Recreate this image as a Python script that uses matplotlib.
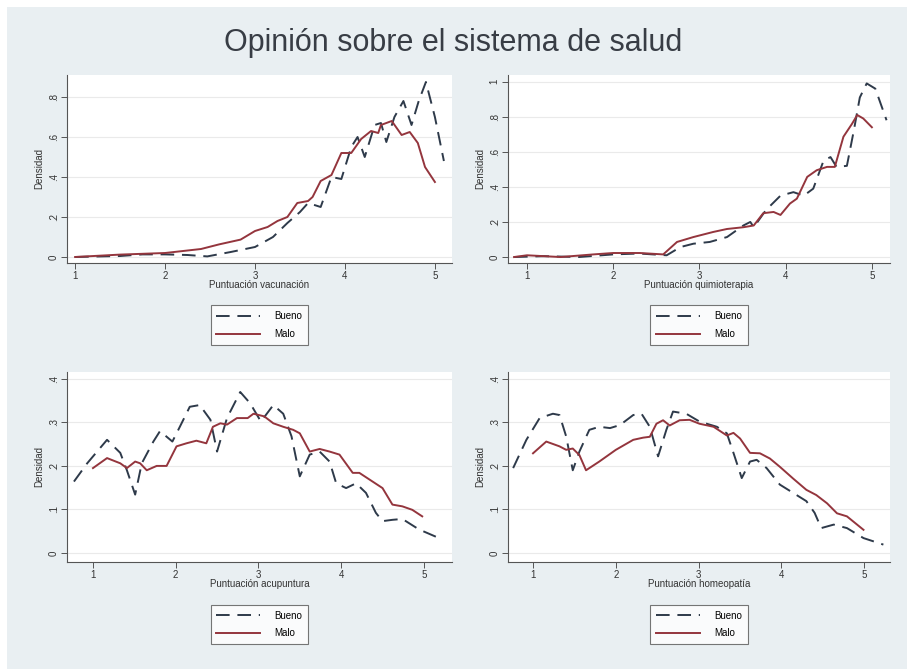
import numpy as np
import matplotlib.pyplot as plt
from matplotlib.patches import Rectangle

plt.rcParams['font.family'] = ['Liberation Sans', 'DejaVu Sans']

# ---- datos ----
# vacunacion
vac_bueno_x = [1.0, 1.5, 1.75, 2.0, 2.25, 2.47, 2.73, 3.0, 3.2, 3.36, 3.5, 3.59, 3.66, 3.73, 3.85, 3.96, 4.07,
               4.14, 4.22, 4.33, 4.4, 4.46, 4.55, 4.65, 4.74, 4.82, 4.9, 5.0, 5.1]
vac_bueno_y = [0.0, 0.005, 0.013, 0.013, 0.01, 0.003, 0.025, 0.05, 0.1, 0.17, 0.225, 0.27, 0.26, 0.25, 0.4, 0.39, 0.55,
               0.6, 0.5, 0.66, 0.67, 0.575, 0.7, 0.78, 0.66, 0.78, 0.875, 0.7, 0.48]
vac_malo_x = [1.0, 1.5, 2.0, 2.2, 2.4, 2.6, 2.84, 3.0, 3.14, 3.25, 3.36, 3.47, 3.59, 3.64, 3.73, 3.85, 3.96, 4.07,
              4.18, 4.29, 4.37, 4.4, 4.52, 4.63, 4.72, 4.81, 4.89, 5.0]
vac_malo_y = [0.0, 0.012, 0.02, 0.03, 0.04, 0.063, 0.087, 0.13, 0.15, 0.18, 0.2, 0.27, 0.28, 0.3, 0.38, 0.41, 0.52, 0.52,
              0.59, 0.63, 0.62, 0.66, 0.68, 0.61, 0.625, 0.57, 0.45, 0.375]

# quimioterapia
qui_bueno_x = [0.85, 1.2, 1.6, 2.0, 2.3, 2.62, 2.78, 2.93, 3.12, 3.32, 3.51, 3.59, 3.63, 3.77, 3.94, 4.09, 4.21, 4.32,
               4.44, 4.52, 4.59, 4.71, 4.79, 4.86, 4.94, 5.04, 5.17]
qui_bueno_y = [0.0, 0.005, 0.0, 0.015, 0.02, 0.01, 0.057, 0.076, 0.086, 0.114, 0.18, 0.2, 0.17, 0.267, 0.35, 0.37, 0.35,
               0.39, 0.55, 0.57, 0.514, 0.52, 0.72, 0.91, 0.99, 0.96, 0.78]
qui_malo_x = [0.85, 1.0, 1.39, 1.77, 2.0, 2.31, 2.58, 2.74, 2.93, 3.16, 3.32, 3.51, 3.63, 3.74, 3.86, 3.94, 4.05, 4.13,
              4.25, 4.36, 4.48, 4.57, 4.67, 4.77, 4.83, 4.9, 5.0]
qui_malo_y = [0.0, 0.01, 0.0, 0.015, 0.023, 0.023, 0.015, 0.086, 0.114, 0.143, 0.16, 0.17, 0.18, 0.25, 0.257, 0.24, 0.305,
              0.333, 0.457, 0.495, 0.514, 0.514, 0.686, 0.76, 0.81, 0.79, 0.74]

# acupuntura
acu_bueno_x = [0.77, 0.93, 1.17, 1.33, 1.41, 1.51, 1.59, 1.73, 1.81, 1.96, 2.05, 2.17, 2.29, 2.42, 2.5, 2.62, 2.78, 2.9,
               3.03, 3.18, 3.3, 3.4, 3.5, 3.62, 3.74, 3.86, 3.94, 4.06, 4.18, 4.3, 4.42, 4.5, 4.62, 4.74, 4.94, 5.22]
acu_bueno_y = [0.164, 0.206, 0.26, 0.23, 0.19, 0.134, 0.206, 0.256, 0.28, 0.256, 0.29, 0.336, 0.34, 0.306, 0.233, 0.31,
               0.37, 0.344, 0.302, 0.34, 0.32, 0.268, 0.176, 0.226, 0.233, 0.21, 0.16, 0.149, 0.16, 0.138, 0.092, 0.073,
               0.076, 0.078, 0.054, 0.031]
acu_malo_x = [1.0, 1.17, 1.33, 1.41, 1.51, 1.57, 1.65, 1.77, 1.89, 2.01, 2.13, 2.25, 2.37, 2.45, 2.54, 2.62, 2.74, 2.87,
              2.94, 3.07, 3.18, 3.3, 3.42, 3.5, 3.62, 3.74, 3.86, 3.98, 4.14, 4.22, 4.38, 4.5, 4.62, 4.74, 4.86, 4.98]
acu_malo_y = [0.195, 0.218, 0.206, 0.195, 0.21, 0.206, 0.19, 0.2, 0.2, 0.245, 0.252, 0.258, 0.252, 0.29, 0.298, 0.295,
              0.31, 0.31, 0.32, 0.314, 0.298, 0.29, 0.283, 0.275, 0.233, 0.239, 0.233, 0.226, 0.184, 0.184, 0.164, 0.149,
              0.111, 0.107, 0.099, 0.084]

# homeopatia
hom_bueno_x = [0.76, 0.92, 1.08, 1.24, 1.32, 1.4, 1.48, 1.56, 1.68, 1.8, 1.93, 2.05, 2.21, 2.31, 2.41, 2.51, 2.61, 2.69,
               2.85, 3.01, 3.22, 3.34, 3.42, 3.52, 3.62, 3.7, 3.82, 3.98, 4.14, 4.3, 4.4, 4.48, 4.63, 4.79, 4.99, 5.23]
hom_bueno_y = [0.195, 0.26, 0.31, 0.32, 0.317, 0.268, 0.19, 0.233, 0.283, 0.29, 0.287, 0.294, 0.317, 0.32, 0.29, 0.222,
               0.283, 0.325, 0.32, 0.302, 0.29, 0.275, 0.23, 0.172, 0.21, 0.214, 0.195, 0.157, 0.138, 0.119, 0.092, 0.057,
               0.065, 0.057, 0.034, 0.019]
hom_malo_x = [1.0, 1.16, 1.32, 1.4, 1.48, 1.56, 1.64, 1.8, 2.0, 2.21, 2.33, 2.41, 2.49, 2.57, 2.65, 2.77, 2.89, 3.01,
              3.18, 3.34, 3.42, 3.5, 3.62, 3.74, 3.86, 3.98, 4.14, 4.3, 4.42, 4.55, 4.67, 4.79, 4.99]
hom_malo_y = [0.229, 0.256, 0.245, 0.237, 0.24, 0.225, 0.19, 0.21, 0.237, 0.26, 0.265, 0.267, 0.297, 0.305, 0.293, 0.305,
              0.306, 0.297, 0.29, 0.27, 0.276, 0.263, 0.23, 0.229, 0.217, 0.198, 0.171, 0.145, 0.133, 0.114, 0.091, 0.084,
              0.053]

paneles = [
    ("Puntuación vacunación", vac_bueno_x, vac_bueno_y, vac_malo_x, vac_malo_y,
     (0.91, 5.19), (-0.03, 0.91), [0, .2, .4, .6, .8], ['0', '.2', '.4', '.6', '.8']),
    ("Puntuación quimioterapia", qui_bueno_x, qui_bueno_y, qui_malo_x, qui_malo_y,
     (0.78, 5.21), (-0.034, 1.038), [0, .2, .4, .6, .8, 1], ['0', '.2', '.4', '.6', '.8', '1']),
    ("Puntuación acupuntura", acu_bueno_x, acu_bueno_y, acu_malo_x, acu_malo_y,
     (0.686, 5.34), (-0.021, 0.416), [0, .1, .2, .3, .4], ['0', '.1', '.2', '.3', '.4']),
    ("Puntuación homeopatía", hom_bueno_x, hom_bueno_y, hom_malo_x, hom_malo_y,
     (0.698, 5.31), (-0.021, 0.416), [0, .1, .2, .3, .4], ['0', '.1', '.2', '.3', '.4']),
]

W, H = 907, 669
fig = plt.figure(figsize=(W / 100, H / 100), dpi=100)
fig.patch.set_facecolor('white')
fig.patches.append(Rectangle((7 / W, 0), 1, 1 - 7 / H, transform=fig.transFigure,
                             facecolor='#e9eff2', edgecolor='none', zorder=-10))

# posiciones en pixeles: (izq, der, arriba, abajo)
cajas = [(67, 452, 75, 263), (508, 890, 75, 263), (67, 452, 372, 562), (508, 890, 372, 562)]

gris = '#555555'
for (xlab, bx, by, mx, my, xl, yl, yt, ytl), (l, r, t, b) in zip(paneles, cajas):
    ax = fig.add_axes([l / W, 1 - b / H, (r - l) / W, (b - t) / H])
    ax.set_facecolor('white')
    for yy in yt:
        ax.axhline(yy, color='#eaeaea', linewidth=0.8, zorder=0)
    ax.plot(bx, by, color='#2e3a4a', linestyle=(0, (7, 4)), linewidth=1.4, label='Bueno')
    ax.plot(mx, my, color='#94353d', linewidth=1.4, label='Malo')
    ax.set_xlim(*xl)
    ax.set_ylim(*yl)
    ax.set_xticks([1, 2, 3, 4, 5])
    ax.set_xticklabels(['1', '2', '3', '4', '5'], fontsize=7, color='#333333')
    ax.set_yticks(yt)
    ax.set_yticklabels(ytl, fontsize=7, rotation=90, va='center', color='#333333')
    ax.tick_params(direction='out', length=4, width=0.7, color=gris, pad=2)
    for s in ['top', 'right']:
        ax.spines[s].set_visible(False)
    for s in ['left', 'bottom']:
        ax.spines[s].set_color(gris)
        ax.spines[s].set_linewidth(0.8)
    ax.set_xlabel(xlab, fontsize=7, color='#333333', labelpad=-1)
    ax.set_ylabel('Densidad', fontsize=7, color='#333333', labelpad=3)
    leg = ax.legend(loc='upper center', bbox_to_anchor=(0.5, -0.2), ncol=1, fontsize=7,
                    frameon=True, fancybox=False, edgecolor='#555555', handlelength=4.5,
                    borderpad=0.6, labelspacing=0.8, handletextpad=1.5)
    leg.get_frame().set_linewidth(0.8)

fig.text(0.5, 1 - 43 / H, 'Opinión sobre el sistema de salud', ha='center', va='center',
         fontsize=22, color='#383d45')

plt.savefig('out.png', dpi=100)
